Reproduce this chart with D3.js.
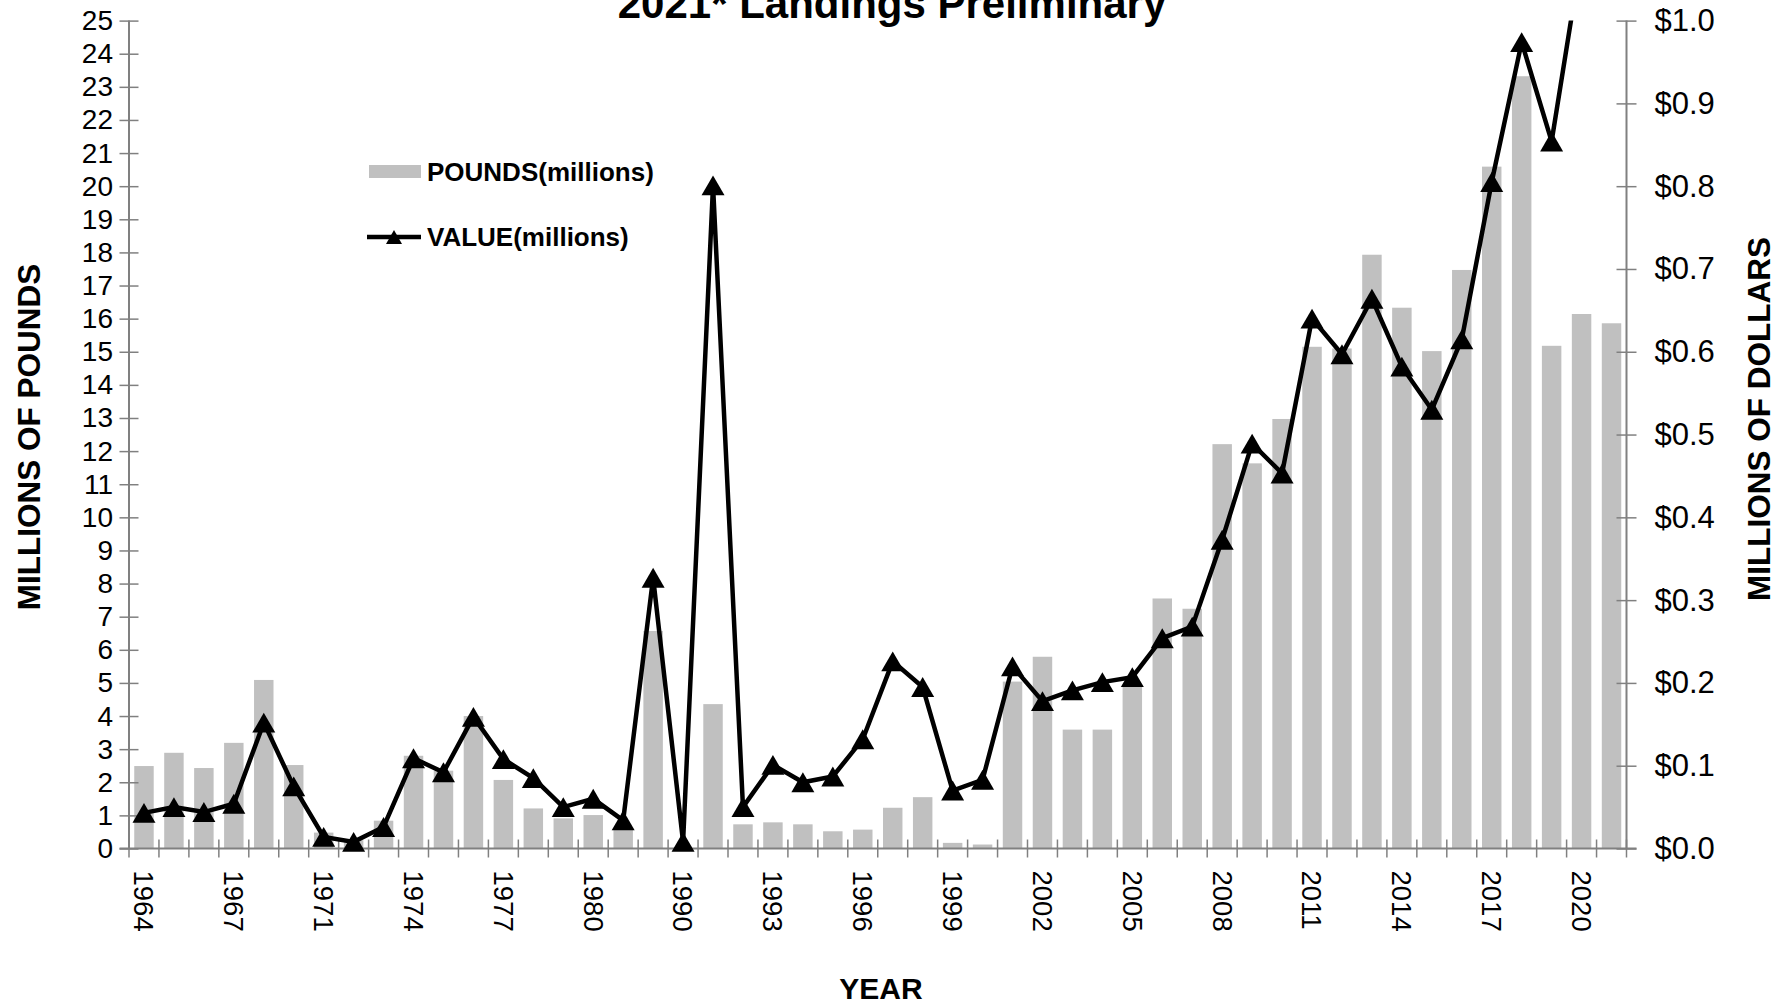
<!DOCTYPE html>
<html>
<head>
<meta charset="utf-8">
<script src="https://cdn.jsdelivr.net/npm/d3@7"></script>
<style>
  html, body { margin: 0; padding: 0; background: #ffffff; }
  svg { display: block; font-family: "Liberation Sans", Arial, sans-serif; }
</style>
</head>
<body>
<svg id="chart" width="1781" height="1004"></svg>
<script>
// ---------- data ----------
const years = ["1964","1965","1966","1967","1968","1969","1971","1972","1973","1974",
               "1975","1976","1977","1978","1979","1980","1981","1989","1990","1991",
               "1992","1993","1994","1995","1996","1997","1998","1999","2000","2001",
               "2002","2003","2004","2005","2006","2007","2008","2009","2010","2011",
               "2012","2013","2014","2015","2016","2017","2018","2019","2020","2021"];

// millions of pounds (bars, left axis)
const pounds = [2.49, 2.89, 2.43, 3.19, 5.09, 2.52, 0.48, 0.25, 0.84, 2.80,
                2.35, 4.00, 2.07, 1.21, 0.91, 1.01, 0.56, 6.57, 0.00, 4.36,
                0.73, 0.79, 0.73, 0.52, 0.57, 1.23, 1.55, 0.17, 0.12, 5.04,
                5.79, 3.59, 3.59, 4.95, 7.55, 7.24, 12.21, 11.63, 12.97, 15.15,
                15.10, 17.93, 16.33, 15.02, 17.47, 20.59, 23.32, 15.18, 16.14, 15.86];

// millions of dollars (line, right axis)
const value = [0.043, 0.050, 0.044, 0.054, 0.152, 0.075, 0.014, 0.008, 0.026, 0.109,
               0.092, 0.159, 0.108, 0.085, 0.050, 0.060, 0.034, 0.327, 0.008, 0.801,
               0.050, 0.101, 0.080, 0.087, 0.132, 0.226, 0.195, 0.070, 0.083, 0.220,
               0.178, 0.191, 0.201, 0.207, 0.254, 0.268, 0.373, 0.489, 0.453, 0.640,
               0.597, 0.664, 0.582, 0.530, 0.615, 0.805, 0.974, 0.854, 1.080, 1.120];

const poundTicks = [0,1,2,3,4,5,6,7,8,9,10,11,12,13,14,15,16,17,18,19,20,21,22,23,24,25];
const dollarTicks = [0.0,0.1,0.2,0.3,0.4,0.5,0.6,0.7,0.8,0.9,1.0];
const yearLabelEvery = 3;

const titleText = "2021* Landings Preliminary";
const legendPounds = "POUNDS(millions)";
const legendValue = "VALUE(millions)";

// ---------- layout ----------
const svg = d3.select("#chart");
const mLeft = 129, mRight = 1626.5, mTop = 20.6, mBottom = 848.5;

const x = d3.scaleBand().domain(years).range([mLeft, mRight]).paddingInner(0.35).paddingOuter(0.175);
const yL = d3.scaleLinear().domain([0, 25]).range([mBottom, mTop]);
const yR = d3.scaleLinear().domain([0, 1]).range([mBottom, mTop]);

svg.append("defs").append("clipPath").attr("id", "plotclip")
  .append("rect").attr("x", mLeft - 20).attr("y", mTop).attr("width", mRight - mLeft + 40).attr("height", mBottom - mTop + 20);

// bars
svg.append("g").selectAll("rect").data(years).join("rect")
  .attr("x", d => x(d))
  .attr("width", x.bandwidth())
  .attr("y", (d, i) => yL(pounds[i]))
  .attr("height", (d, i) => mBottom - yL(pounds[i]))
  .attr("fill", "#c0c0c0");

// axes
const axisColor = "#808080";
// left axis
const gL = svg.append("g").attr("transform", `translate(${mLeft},0)`)
  .call(d3.axisLeft(yL).tickValues(poundTicks).tickSize(0).tickPadding(16).tickFormat(d3.format("d")));
gL.select(".domain").remove();
gL.selectAll("text").attr("font-size", 28).attr("fill", "#000").attr("font-family", "Liberation Sans, Arial, sans-serif");
gL.selectAll(".tick").append("line").attr("x1", -9.5).attr("x2", 9.5).attr("stroke", axisColor).attr("stroke-width", 1.5);
gL.append("line").attr("y1", mTop).attr("y2", mBottom).attr("stroke", axisColor).attr("stroke-width", 2);

// right axis
const gR = svg.append("g").attr("transform", `translate(${mRight},0)`)
  .call(d3.axisRight(yR).tickValues(dollarTicks).tickSize(0).tickPadding(28).tickFormat(d => "$" + d3.format(".1f")(d)));
gR.select(".domain").remove();
gR.selectAll("text").attr("font-size", 31).attr("fill", "#000").attr("font-family", "Liberation Sans, Arial, sans-serif");
gR.selectAll(".tick").append("line").attr("x1", -10).attr("x2", 10).attr("stroke", axisColor).attr("stroke-width", 1.5);
gR.append("line").attr("y1", mTop).attr("y2", mBottom).attr("stroke", axisColor).attr("stroke-width", 2);

// bottom axis
const gB = svg.append("g").attr("transform", `translate(0,${mBottom})`);
gB.append("line").attr("x1", mLeft - 9.5).attr("x2", mRight + 10).attr("stroke", axisColor).attr("stroke-width", 2);
const boundaries = years.map(d => x(d) - x.step() * x.paddingInner() / 2);
boundaries.push(mRight);
gB.selectAll("line.tk").data(boundaries).join("line").attr("class", "tk")
  .attr("x1", d => d).attr("x2", d => d).attr("y1", -9).attr("y2", 9)
  .attr("stroke", axisColor).attr("stroke-width", 1.5);
gB.selectAll("text").data(years.filter((d, i) => i % yearLabelEvery === 0)).join("text")
  .attr("transform", d => `translate(${x(d) + x.bandwidth() / 2},22) rotate(90)`)
  .attr("dy", "0.35em")
  .attr("font-size", 27.5)
  .attr("fill", "#000")
  .text(d => d);

// line + markers
const cx = d => x(d) + x.bandwidth() / 2;
const tri = (s) => {
  const h = s * Math.sqrt(3) / 2;
  return `M0,${-h/2}L${s/2},${h/2}L${-s/2},${h/2}Z`;
};
const plot = svg.append("g").attr("clip-path", "url(#plotclip)");
plot.append("path")
  .datum(years)
  .attr("fill", "none").attr("stroke", "#000").attr("stroke-width", 4.5).attr("stroke-linejoin", "miter")
  .attr("d", d3.line().x(d => cx(d)).y((d, i) => yR(value[i])));
plot.selectAll("path.mk").data(years).join("path").attr("class", "mk")
  .attr("transform", (d, i) => `translate(${cx(d)},${yR(value[i])})`)
  .attr("d", tri(23))
  .attr("fill", "#000");

// title (the top of this line is cut by the frame, as in the source picture)
svg.append("text").attr("x", 892).attr("y", 18).attr("text-anchor", "middle")
  .attr("font-size", 42).attr("font-weight", "bold").text(titleText);

// axis titles
svg.append("text").attr("transform", "translate(29,437) rotate(-90)")
  .attr("text-anchor", "middle").attr("dy", "0.35em")
  .attr("font-size", 31.5).attr("font-weight", "bold").text("MILLIONS OF POUNDS");
svg.append("text").attr("transform", "translate(1759,419) rotate(-90)")
  .attr("text-anchor", "middle").attr("dy", "0.35em")
  .attr("font-size", 31.5).attr("font-weight", "bold").text("MILLIONS OF DOLLARS");
svg.append("text").attr("x", 881).attr("y", 988).attr("text-anchor", "middle").attr("dy", "0.35em")
  .attr("font-size", 30).attr("font-weight", "bold").text("YEAR");

// legend
const lg = svg.append("g");
lg.append("rect").attr("x", 369).attr("y", 165).attr("width", 52).attr("height", 13).attr("fill", "#c0c0c0");
lg.append("text").attr("x", 427).attr("y", 172).attr("dy", "0.35em").attr("font-size", 26).attr("font-weight", "bold").text(legendPounds);
lg.append("line").attr("x1", 367).attr("x2", 421).attr("y1", 237).attr("y2", 237).attr("stroke", "#000").attr("stroke-width", 4.5);
lg.append("path").attr("transform", "translate(394,237)").attr("d", tri(16)).attr("fill", "#000");
lg.append("text").attr("x", 427).attr("y", 237).attr("dy", "0.35em").attr("font-size", 26).attr("font-weight", "bold").text(legendValue);
</script>
</body>
</html>
